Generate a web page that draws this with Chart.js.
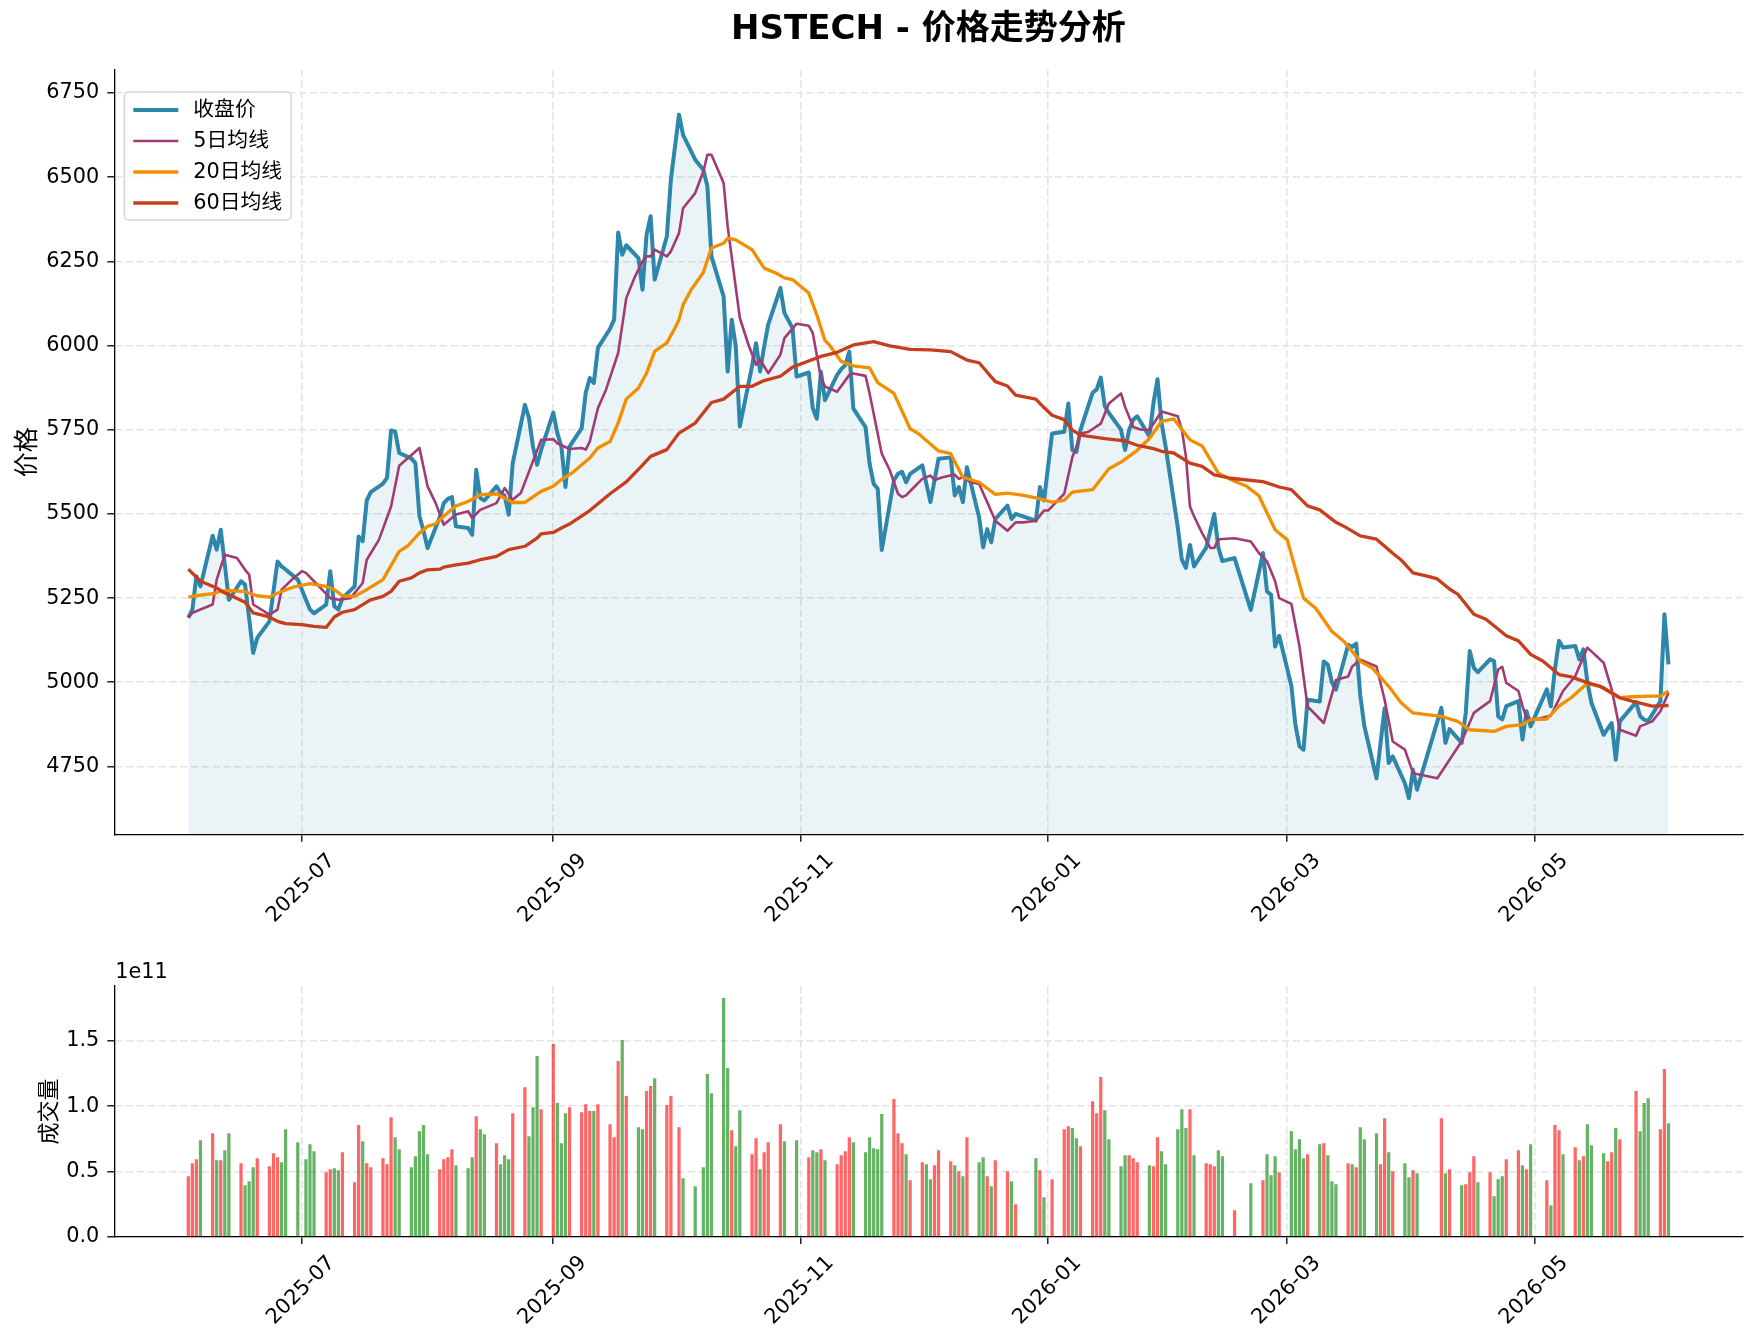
<!DOCTYPE html>
<html>
<head>
<meta charset="utf-8">
<script src="https://cdn.jsdelivr.net/npm/chart.js@4.4.1/dist/chart.umd.min.js"></script>
<style>
  html, body { margin: 0; padding: 0; background: #fff; }
  #wrap { position: relative; width: 1757px; height: 1342px; background: #fff; }
  #priceChart { position: absolute; left: 0; top: 0; }
  #volumeChart { position: absolute; left: 0; top: 940px; }
</style>
</head>
<body>
<div id="wrap">
  <canvas id="priceChart" width="1757" height="940"></canvas>
  <canvas id="volumeChart" width="1757" height="402"></canvas>
</div>
<script>
// ---------- data ----------
const TITLE = 'HSTECH - 价格走势分析';

// trading days
const dates = [
  '2025-06-03','2025-06-04','2025-06-05','2025-06-06','2025-06-09','2025-06-10','2025-06-11','2025-06-12','2025-06-13','2025-06-16',
  '2025-06-17','2025-06-18','2025-06-19','2025-06-20','2025-06-23','2025-06-24','2025-06-25','2025-06-26','2025-06-27','2025-06-30',
  '2025-07-02','2025-07-03','2025-07-04','2025-07-07','2025-07-08','2025-07-09','2025-07-10','2025-07-11','2025-07-14','2025-07-15',
  '2025-07-16','2025-07-17','2025-07-18','2025-07-21','2025-07-22','2025-07-23','2025-07-24','2025-07-25','2025-07-28','2025-07-29',
  '2025-07-30','2025-07-31',
  '2025-08-01','2025-08-04','2025-08-05','2025-08-06','2025-08-07','2025-08-08','2025-08-11','2025-08-12','2025-08-13','2025-08-14',
  '2025-08-15','2025-08-18','2025-08-19','2025-08-20','2025-08-21','2025-08-22','2025-08-25','2025-08-26','2025-08-27','2025-08-28',
  '2025-08-29',
  '2025-09-01','2025-09-02','2025-09-03','2025-09-04','2025-09-05','2025-09-08','2025-09-09','2025-09-10','2025-09-11','2025-09-12',
  '2025-09-15','2025-09-16','2025-09-17','2025-09-18','2025-09-19','2025-09-22','2025-09-23','2025-09-24','2025-09-25','2025-09-26',
  '2025-09-29','2025-09-30',
  '2025-10-02','2025-10-03','2025-10-06','2025-10-08','2025-10-09','2025-10-10','2025-10-13','2025-10-14','2025-10-15','2025-10-16',
  '2025-10-17','2025-10-20','2025-10-21','2025-10-22','2025-10-23','2025-10-24','2025-10-27','2025-10-28','2025-10-30','2025-10-31',
  '2025-11-03','2025-11-04','2025-11-05','2025-11-06','2025-11-07','2025-11-10','2025-11-11','2025-11-12','2025-11-13','2025-11-14',
  '2025-11-17','2025-11-18','2025-11-19','2025-11-20','2025-11-21','2025-11-24','2025-11-25','2025-11-26','2025-11-27','2025-11-28',
  '2025-12-01','2025-12-02','2025-12-03','2025-12-04','2025-12-05','2025-12-08','2025-12-09','2025-12-10','2025-12-11','2025-12-12',
  '2025-12-15','2025-12-16','2025-12-17','2025-12-18','2025-12-19','2025-12-22','2025-12-23','2025-12-24','2025-12-29','2025-12-30',
  '2025-12-31',
  '2026-01-02','2026-01-05','2026-01-06','2026-01-07','2026-01-08','2026-01-09','2026-01-12','2026-01-13','2026-01-14','2026-01-15',
  '2026-01-16','2026-01-19','2026-01-20','2026-01-21','2026-01-22','2026-01-23','2026-01-26','2026-01-27','2026-01-28','2026-01-29',
  '2026-01-30',
  '2026-02-02','2026-02-03','2026-02-04','2026-02-05','2026-02-06','2026-02-09','2026-02-10','2026-02-11','2026-02-12','2026-02-13',
  '2026-02-16','2026-02-20','2026-02-23','2026-02-24','2026-02-25','2026-02-26','2026-02-27',
  '2026-03-02','2026-03-03','2026-03-04','2026-03-05','2026-03-06','2026-03-09','2026-03-10','2026-03-11','2026-03-12','2026-03-13',
  '2026-03-16','2026-03-17','2026-03-18','2026-03-19','2026-03-20','2026-03-23','2026-03-24','2026-03-25','2026-03-26','2026-03-27',
  '2026-03-30','2026-03-31',
  '2026-04-01','2026-04-02','2026-04-08','2026-04-09','2026-04-10','2026-04-13','2026-04-14','2026-04-15','2026-04-16','2026-04-17',
  '2026-04-20','2026-04-21','2026-04-22','2026-04-23','2026-04-24','2026-04-27','2026-04-28','2026-04-29','2026-04-30',
  '2026-05-04','2026-05-05','2026-05-06','2026-05-07','2026-05-08','2026-05-11','2026-05-12','2026-05-13','2026-05-14','2026-05-15',
  '2026-05-18','2026-05-19','2026-05-20','2026-05-21','2026-05-22','2026-05-26','2026-05-27','2026-05-28','2026-05-29',
  '2026-06-01','2026-06-02','2026-06-03'
];

// 收盘价
const close = [
  5191,5216,5315,5285,5435,5394,5453,5350,5245,5300,5290,5190,5087,5132,5181,5270,5359,5344,5335,5305,
  5245,5216,5205,5231,5330,5226,5216,5250,5285,5433,5419,5540,5565,5590,5607,5748,5745,5681,5665,5651,5493,5450,
  5399,5490,5532,5545,5550,5463,5458,5438,5631,5547,5540,5582,5562,5555,5498,5651,5824,5785,5700,5646,5690,
  5801,5740,5700,5580,5700,5755,5860,5904,5889,5993,6050,6077,6336,6270,6298,6260,6166,6329,6384,6196,6324,6493,
  6686,6626,6552,6522,6473,6265,6146,5923,6077,5998,5760,5938,6007,5923,5998,6062,6171,6097,6052,5908,
  5920,5813,5783,5922,5838,5913,5930,5942,5982,5813,5758,5649,5590,5575,5393,5600,5619,5625,5594,5619,
  5644,5590,5535,5600,5664,5668,5555,5580,5535,5639,5490,5401,5455,5416,5485,5525,5485,5500,5480,5580,5540,
  5739,5744,5828,5690,5684,5750,5860,5870,5905,5820,5800,5750,5690,5750,5780,5790,5730,5830,5900,5770,5700,
  5460,5364,5340,5408,5344,5400,5450,5500,5400,5360,5369,5215,5384,5270,5260,5106,5138,
  4990,4874,4810,4800,4948,4943,5062,5052,5000,4978,5111,5105,5115,4960,4870,4715,4820,4923,4760,4780,4700,4656,
  4740,4681,4924,4820,4861,4820,4909,5093,5043,5030,5068,5063,4899,4890,4929,4944,4830,4914,4869,
  4979,4929,5040,5123,5103,5108,5068,5098,5000,4939,4844,4862,4879,4770,4884,4941,4900,4889,4885,
  4944,5202,5053
];

// 成交量, in units of 1e11 (null = no bar)
const volumeE11 = [
  0.464,0.564,0.594,0.740,0.793,0.587,0.587,0.663,0.793,0.564,0.395,0.426,0.533,0.602,0.541,0.640,0.610,0.571,0.824,0.724,
  0.594,0.709,0.656,0.495,0.518,0.526,0.510,0.648,0.418,0.855,0.732,0.564,0.533,0.602,0.556,0.916,0.763,0.671,0.533,0.617,0.809,0.855,
  0.633,0.518,0.594,0.610,0.671,0.548,0.526,0.610,0.923,0.824,0.786,0.717,0.556,0.625,0.594,0.946,1.145,0.770,0.992,1.383,0.977,
  1.474,1.023,0.717,0.946,0.992,0.954,1.015,0.962,0.962,1.015,0.862,0.763,1.344,1.505,1.077,0.839,0.824,1.115,1.153,1.214,1.008,1.077,
  0.839,0.449,0.388,0.533,1.245,1.099,1.827,1.291,0.816,0.694,0.969,0.633,0.755,0.518,0.648,0.724,0.862,0.732,null,0.740,
  0.610,0.663,0.648,0.671,0.587,0.556,0.625,0.656,0.763,0.724,0.648,0.763,0.679,0.671,0.939,1.054,0.793,0.717,0.633,0.434,
  0.571,0.556,0.441,0.548,0.663,0.579,0.548,0.503,0.464,0.763,0.571,0.610,0.464,0.388,0.587,0.503,0.426,0.250,0.602,0.510,0.304,
  0.441,0.824,0.847,0.832,0.755,0.694,1.038,0.946,1.222,0.969,0.747,0.541,0.625,0.625,0.602,0.571,0.548,0.541,0.763,0.656,0.556,
  0.824,0.977,0.832,0.977,0.625,0.564,0.556,0.541,0.663,0.617,0.204,0.411,0.434,0.633,0.472,0.617,0.495,
  0.809,0.671,0.747,0.602,0.633,0.709,0.717,0.625,0.426,0.403,0.564,0.556,0.533,0.839,0.747,0.793,0.556,0.908,0.648,0.503,0.564,0.457,
  0.510,0.487,0.908,0.487,0.518,0.395,0.403,0.495,0.617,0.418,0.495,0.311,0.441,0.464,0.594,0.663,0.548,0.518,0.709,
  0.434,0.242,0.855,0.816,0.633,0.686,0.587,0.617,0.862,0.702,0.640,0.579,0.648,0.832,0.747,1.115,0.809,1.023,1.061,
  0.824,1.283,0.870
];

// 1 = red (up day), 0 = green (down day)
const upDay = [
  1,1,1,0,1,0,1,0,0,1,0,0,0,1,1,1,1,0,0,0,
  0,0,0,1,1,0,0,1,1,1,0,1,1,1,1,1,0,0,0,0,0,0,
  0,1,1,1,1,0,0,0,1,0,0,1,0,0,0,1,1,0,0,0,1,
  1,0,0,0,1,1,1,1,0,1,1,1,1,0,1,0,0,1,1,0,1,1,
  1,0,0,0,0,0,0,0,1,0,0,1,1,0,1,1,1,0,null,0,
  1,0,0,1,0,1,1,1,1,0,0,0,0,0,0,1,1,1,0,1,
  1,0,0,1,1,1,0,1,0,1,0,0,1,0,1,1,0,1,0,1,0,
  1,1,1,0,0,1,1,1,1,0,0,0,0,1,1,1,0,1,1,0,0,
  0,0,0,1,0,1,1,1,0,0,1,0,1,0,0,0,1,
  0,0,0,0,1,0,1,0,0,0,1,0,1,0,0,0,1,1,0,1,0,0,
  1,0,1,0,1,0,1,1,1,0,1,0,0,0,1,1,0,1,0,
  1,0,1,1,0,1,0,1,0,0,0,1,1,0,1,1,0,0,0,
  1,1,0
];

// 5日均线
const ma5Dates = [
  '2025-06-03','2025-06-04','2025-06-06','2025-06-09','2025-06-10','2025-06-12','2025-06-15','2025-06-17','2025-06-18','2025-06-19',
  '2025-06-23','2025-06-25','2025-06-26','2025-06-29','2025-07-01','2025-07-02','2025-07-04','2025-07-06','2025-07-08','2025-07-10',
  '2025-07-13','2025-07-16','2025-07-17','2025-07-20','2025-07-23','2025-07-25','2025-07-30','2025-08-01','2025-08-03','2025-08-05',
  '2025-08-08','2025-08-11','2025-08-12','2025-08-14','2025-08-18','2025-08-20','2025-08-22','2025-08-24','2025-08-29','2025-09-01',
  '2025-09-02','2025-09-05','2025-09-08','2025-09-09','2025-09-10','2025-09-12','2025-09-14','2025-09-17','2025-09-19','2025-09-21',
  '2025-09-23','2025-09-24','2025-09-25','2025-09-26','2025-09-29','2025-09-30','2025-10-02','2025-10-03','2025-10-06','2025-10-08',
  '2025-10-09','2025-10-10','2025-10-13','2025-10-14','2025-10-17','2025-10-19','2025-10-21','2025-10-22','2025-10-24','2025-10-27',
  '2025-10-28','2025-10-31','2025-11-03','2025-11-04','2025-11-06','2025-11-07','2025-11-10','2025-11-13','2025-11-14','2025-11-17',
  '2025-11-18','2025-11-21','2025-11-23','2025-11-25','2025-11-26','2025-11-27','2025-11-29','2025-12-01','2025-12-03','2025-12-04',
  '2025-12-06','2025-12-09','2025-12-10','2025-12-11','2025-12-13','2025-12-15','2025-12-17','2025-12-19','2025-12-22','2025-12-24',
  '2025-12-26','2025-12-29','2025-12-31','2026-01-01','2026-01-03','2026-01-05','2026-01-07','2026-01-08','2026-01-09','2026-01-11',
  '2026-01-14','2026-01-16','2026-01-19','2026-01-20','2026-01-22','2026-01-24','2026-01-26','2026-01-29','2026-02-02','2026-02-03',
  '2026-02-04','2026-02-05','2026-02-06','2026-02-08','2026-02-10','2026-02-11','2026-02-12','2026-02-16','2026-02-20','2026-02-22',
  '2026-02-24','2026-02-26','2026-02-27','2026-03-02','2026-03-04','2026-03-06','2026-03-10','2026-03-13','2026-03-16','2026-03-17',
  '2026-03-19','2026-03-23','2026-03-25','2026-03-27','2026-03-30','2026-04-01','2026-04-07','2026-04-10','2026-04-13','2026-04-16',
  '2026-04-20','2026-04-22','2026-04-23','2026-04-24','2026-04-27','2026-04-28','2026-04-29','2026-05-01','2026-05-05','2026-05-08',
  '2026-05-11','2026-05-14','2026-05-18','2026-05-20','2026-05-22','2026-05-26','2026-05-27','2026-05-30','2026-06-01','2026-06-03'
];
const ma5 = [
  5194,5206,5216,5231,5305,5379,5369,5334,5320,5231,
  5201,5216,5275,5310,5330,5325,5300,5275,5250,5245,
  5250,5295,5364,5423,5522,5643,5696,5582,5532,5468,
  5498,5508,5488,5512,5532,5577,5542,5562,5720,5722,
  5710,5693,5696,5691,5715,5814,5869,5978,6141,6201,
  6250,6265,6265,6285,6265,6280,6334,6408,6453,6517,
  6567,6567,6483,6354,6082,6007,5943,5958,5918,5973,
  6022,6065,6059,6037,5903,5878,5863,5913,5917,5910,
  5858,5679,5629,5560,5550,5555,5580,5604,5614,5601,
  5609,5617,5604,5609,5594,5589,5535,5480,5450,5475,
  5475,5480,5510,5510,5535,5560,5669,5699,5739,5744,
  5768,5828,5858,5818,5758,5750,5750,5804,5790,5750,
  5671,5522,5493,5443,5399,5399,5425,5428,5418,5384,
  5359,5300,5250,5233,5107,4928,4879,5007,5017,5047,
  5067,5047,4948,4824,4800,4730,4715,4770,4825,4909,
  4944,5038,5046,4998,4974,4929,4894,4889,4901,4974,
  5018,5103,5058,4979,4859,4841,4869,4884,4914,4969
];

// 20日均线
const ma20Dates = [
  '2025-06-03','2025-06-05','2025-06-09','2025-06-11','2025-06-13','2025-06-17','2025-06-20','2025-06-23','2025-06-26','2025-06-29',
  '2025-07-03','2025-07-07','2025-07-09','2025-07-11','2025-07-14','2025-07-17','2025-07-21','2025-07-25','2025-07-27','2025-07-30',
  '2025-08-01','2025-08-03','2025-08-05','2025-08-08','2025-08-11','2025-08-14','2025-08-18','2025-08-22','2025-08-25','2025-08-29',
  '2025-09-01','2025-09-03','2025-09-06','2025-09-10','2025-09-12','2025-09-15','2025-09-17','2025-09-19','2025-09-22','2025-09-24',
  '2025-09-26','2025-09-29','2025-10-01','2025-10-02','2025-10-03','2025-10-05','2025-10-08','2025-10-10','2025-10-13','2025-10-14',
  '2025-10-16','2025-10-20','2025-10-23','2025-10-26','2025-10-28','2025-10-30','2025-11-03','2025-11-05','2025-11-07','2025-11-08',
  '2025-11-11','2025-11-14','2025-11-18','2025-11-20','2025-11-24','2025-11-28','2025-11-30','2025-12-05','2025-12-08','2025-12-11',
  '2025-12-15','2025-12-19','2025-12-22','2025-12-26','2025-12-29','2026-01-02','2026-01-05','2026-01-07','2026-01-12','2026-01-16',
  '2026-01-19','2026-01-23','2026-01-26','2026-01-29','2026-02-01','2026-02-05','2026-02-08','2026-02-12','2026-02-16','2026-02-19',
  '2026-02-22','2026-02-26','2026-03-01','2026-03-05','2026-03-08','2026-03-12','2026-03-15','2026-03-19','2026-03-22','2026-03-26',
  '2026-03-29','2026-04-01','2026-04-08','2026-04-12','2026-04-15','2026-04-21','2026-04-24','2026-04-28','2026-04-30','2026-05-04',
  '2026-05-07','2026-05-10','2026-05-14','2026-05-18','2026-05-22','2026-05-25','2026-05-29','2026-06-01','2026-06-03'
];
const ma20 = [
  5253,5257,5263,5270,5273,5269,5257,5253,5270,5283,
  5293,5285,5275,5257,5255,5275,5305,5389,5404,5443,
  5463,5471,5493,5524,5537,5557,5560,5534,5534,5567,
  5582,5602,5625,5666,5696,5715,5770,5841,5874,5918,
  5983,6008,6052,6077,6121,6166,6217,6290,6304,6319,
  6314,6285,6230,6215,6201,6196,6156,6090,6015,6003,
  5953,5940,5934,5890,5858,5753,5739,5687,5679,5609,
  5594,5558,5562,5555,5548,5535,5540,5565,5572,5634,
  5654,5689,5724,5775,5782,5720,5702,5621,5597,5582,
  5554,5453,5423,5250,5220,5151,5121,5062,5042,4988,
  4940,4909,4899,4884,4859,4854,4869,4874,4889,4891,
  4929,4954,4997,4984,4954,4957,4959,4959,4974
];

// 60日均线
const ma60Dates = [
  '2025-06-03','2025-06-06','2025-06-10','2025-06-12','2025-06-14','2025-06-17','2025-06-19','2025-06-23','2025-06-25','2025-06-27',
  '2025-07-01','2025-07-04','2025-07-07','2025-07-09','2025-07-11','2025-07-14','2025-07-17','2025-07-18','2025-07-21','2025-07-23',
  '2025-07-25','2025-07-28','2025-07-30','2025-08-01','2025-08-04','2025-08-05','2025-08-08','2025-08-11','2025-08-14','2025-08-16',
  '2025-08-18','2025-08-21','2025-08-25','2025-08-28','2025-08-29','2025-09-01','2025-09-03','2025-09-05','2025-09-10','2025-09-15',
  '2025-09-19','2025-09-23','2025-09-25','2025-09-29','2025-10-02','2025-10-06','2025-10-10','2025-10-13','2025-10-17','2025-10-20',
  '2025-10-23','2025-10-27','2025-10-30','2025-11-02','2025-11-06','2025-11-10','2025-11-14','2025-11-19','2025-11-23','2025-11-28',
  '2025-12-03','2025-12-08','2025-12-12','2025-12-15','2025-12-19','2025-12-22','2025-12-24','2025-12-29','2025-12-31','2026-01-02',
  '2026-01-05','2026-01-07','2026-01-09','2026-01-15','2026-01-20','2026-01-23','2026-01-27','2026-01-29','2026-02-01','2026-02-05',
  '2026-02-08','2026-02-11','2026-02-15','2026-02-23','2026-02-27','2026-03-02','2026-03-06','2026-03-09','2026-03-13','2026-03-15',
  '2026-03-19','2026-03-23','2026-03-27','2026-03-29','2026-04-01','2026-04-05','2026-04-07','2026-04-10','2026-04-12','2026-04-16',
  '2026-04-19','2026-04-24','2026-04-27','2026-04-30','2026-05-03','2026-05-07','2026-05-10','2026-05-14','2026-05-17','2026-05-22',
  '2026-05-25','2026-05-30','2026-06-03'
];
const ma60 = [
  5336,5300,5280,5265,5255,5238,5206,5194,5181,5174,
  5171,5166,5163,5194,5208,5216,5238,5245,5255,5270,
  5300,5310,5325,5334,5336,5342,5349,5354,5364,5369,
  5374,5394,5404,5428,5441,5445,5458,5470,5510,5560,
  5595,5645,5671,5691,5740,5770,5831,5841,5879,5879,
  5896,5909,5936,5950,5968,5980,6002,6012,5999,5989,
  5987,5982,5957,5949,5893,5880,5853,5841,5816,5793,
  5780,5749,5734,5724,5717,5704,5694,5686,5681,5651,
  5641,5616,5606,5596,5580,5572,5524,5512,5475,5463,
  5435,5425,5383,5364,5325,5314,5307,5277,5262,5202,
  5187,5138,5123,5083,5063,5023,5016,4999,4989,4954,
  4944,4929,4931
];

const monthTicks = ['2025-07', '2025-09', '2025-11', '2026-01', '2026-03', '2026-05'];
const priceTicks = [4750, 5000, 5250, 5500, 5750, 6000, 6250, 6500, 6750];
const volumeTicks = [0, 0.5, 1.0, 1.5];

// ---------- helpers ----------
const FONT = "'DejaVu Sans', 'Noto Sans CJK SC', sans-serif";
const GRID = '#e4e4e4';
const UP_COLOR = 'rgba(255, 0, 0, 0.6)';
const DOWN_COLOR = 'rgba(0, 128, 0, 0.6)';

Chart.defaults.font.family = FONT;
Chart.defaults.font.size = 20.8;
Chart.defaults.color = '#000';
Chart.defaults.animation = false;

const DAY_MS = 86400000;
const toDay = s => Date.UTC(+s.slice(0, 4), +s.slice(5, 7) - 1, +s.slice(8, 10)) / DAY_MS;
const points = (ds, vs) => ds.map((d, i) => ({ x: toDay(d), y: vs[i] }));

const firstX = toDay(dates[0]);
const lastX = toDay(dates[dates.length - 1]);
const xPad = (lastX - firstX) * 0.05;

const xAxis = (height) => ({
  type: 'linear',
  min: firstX - xPad,
  max: lastX + xPad,
  offset: false,
  afterBuildTicks: s => { s.ticks = monthTicks.map(m => ({ value: toDay(m + '-01') })); },
  afterFit: s => { s.height = height; },
  ticks: { callback: (v, i) => monthTicks[i], autoSkip: false, maxRotation: 45, minRotation: 45, padding: 7, labelOffset: 30 },
  grid: { offset: false, color: GRID, lineWidth: 1.6, tickColor: '#000', tickWidth: 1.3, tickLength: 7, tickBorderDash: [] },
  border: { display: true, color: '#000', width: 1.3, dash: [7.5, 3.3] }
});

const yAxisBase = (tickList, fmt, title, titleSize, titlePad) => ({
  afterBuildTicks: s => { s.ticks = tickList.map(v => ({ value: v })); },
  afterFit: s => { s.width = 114.3; },
  ticks: { callback: fmt, padding: 8 },
  grid: { color: GRID, lineWidth: 1.6, tickColor: '#000', tickWidth: 1.3, tickLength: 7, tickBorderDash: [] },
  border: { display: true, color: '#000', width: 1.3, dash: [7.5, 3.3] },
  title: { display: true, text: title, font: { size: titleSize }, padding: { top: titlePad, bottom: 0 } }
});

// title centred over the plot area
const titlePlugin = {
  id: 'centerTitle',
  afterDraw(chart) {
    const { ctx, chartArea } = chart;
    ctx.save();
    ctx.font = `bold 34px ${FONT}`;
    ctx.fillStyle = '#000';
    ctx.textAlign = 'center';
    ctx.textBaseline = 'middle';
    ctx.fillText(TITLE, (chartArea.left + chartArea.right) / 2, 30);
    ctx.restore();
  }
};

// matplotlib-like legend box in the upper left corner
const legendBox = {
  id: 'legendBox',
  afterDraw(chart) {
    const { ctx, chartArea } = chart;
    const items = chart.data.datasets;
    ctx.save();
    ctx.font = `20.8px ${FONT}`;
    const textW = Math.max(...items.map(d => ctx.measureText(d.label).width));
    const x0 = chartArea.left + 10, y0 = chartArea.top + 22.5;
    const w = 69 + textW + 9, h = 128;
    ctx.beginPath();
    ctx.roundRect(x0, y0, w, h, 4);
    ctx.fillStyle = 'rgba(255,255,255,0.8)';
    ctx.fill();
    ctx.strokeStyle = '#d6d6d6';
    ctx.lineWidth = 1.5;
    ctx.stroke();
    items.forEach((d, i) => {
      const cy = y0 + 18 + i * 31;
      ctx.beginPath();
      ctx.moveTo(x0 + 9, cy);
      ctx.lineTo(x0 + 54, cy);
      ctx.strokeStyle = d.borderColor;
      ctx.lineWidth = d.borderWidth;
      ctx.stroke();
      ctx.fillStyle = '#000';
      ctx.textBaseline = 'middle';
      ctx.fillText(d.label, x0 + 69, cy + 1);
    });
    ctx.restore();
  }
};

// "1e11" offset label above the volume axis
const offsetLabel = {
  id: 'offsetLabel',
  afterDraw(chart) {
    const { ctx, chartArea } = chart;
    ctx.save();
    ctx.font = `20.8px ${FONT}`;
    ctx.fillStyle = '#000';
    ctx.textBaseline = 'middle';
    ctx.fillText('1e11', chartArea.left + 1, chartArea.top - 13);
    ctx.restore();
  }
};

// ---------- price chart ----------
new Chart(document.getElementById('priceChart'), {
  type: 'line',
  data: {
    datasets: [
      { label: '收盘价', data: points(dates, close), borderColor: '#2E86AB', borderWidth: 4,
        fill: 'start', backgroundColor: 'rgba(46, 134, 171, 0.1)', order: 4 },
      { label: '5日均线', data: points(ma5Dates, ma5), borderColor: '#A23B72', borderWidth: 2.6, fill: false, order: 3 },
      { label: '20日均线', data: points(ma20Dates, ma20), borderColor: '#F18F01', borderWidth: 3.3, fill: false, order: 2 },
      { label: '60日均线', data: points(ma60Dates, ma60), borderColor: '#C73E1D', borderWidth: 3.3, fill: false, order: 1 }
    ]
  },
  options: {
    responsive: false,
    devicePixelRatio: 1,
    layout: { padding: { left: 0, right: 14.5, top: 69.5, bottom: 0 } },
    elements: { point: { radius: 0 }, line: { tension: 0, borderJoinStyle: 'round', borderCapStyle: 'butt' } },
    plugins: { legend: { display: false }, tooltip: { enabled: false } },
    scales: {
      x: xAxis(105.2),
      y: Object.assign({ min: 4547, max: 6820 }, yAxisBase(priceTicks, v => String(v), '价格', 25, 13))
    }
  },
  plugins: [titlePlugin, legendBox]
});

// ---------- volume chart ----------
const barPoints = [];
const barColors = [];
dates.forEach((d, i) => {
  if (volumeE11[i] == null) return;
  barPoints.push({ x: toDay(d), y: volumeE11[i] });
  barColors.push(upDay[i] ? UP_COLOR : DOWN_COLOR);
});

new Chart(document.getElementById('volumeChart'), {
  type: 'bar',
  data: {
    datasets: [{ label: '成交量', data: barPoints, backgroundColor: barColors, borderWidth: 0,
                 barPercentage: 0.8, categoryPercentage: 1.0 }]
  },
  options: {
    responsive: false,
    devicePixelRatio: 1,
    layout: { padding: { left: 0, right: 14.5, top: 46, bottom: 0 } },
    plugins: { legend: { display: false }, tooltip: { enabled: false } },
    scales: {
      x: xAxis(105),
      y: Object.assign({ min: 0, max: 1.918 }, yAxisBase(volumeTicks, v => v.toFixed(1), '成交量', 22, 37))
    }
  },
  plugins: [offsetLabel]
});
</script>
</body>
</html>
